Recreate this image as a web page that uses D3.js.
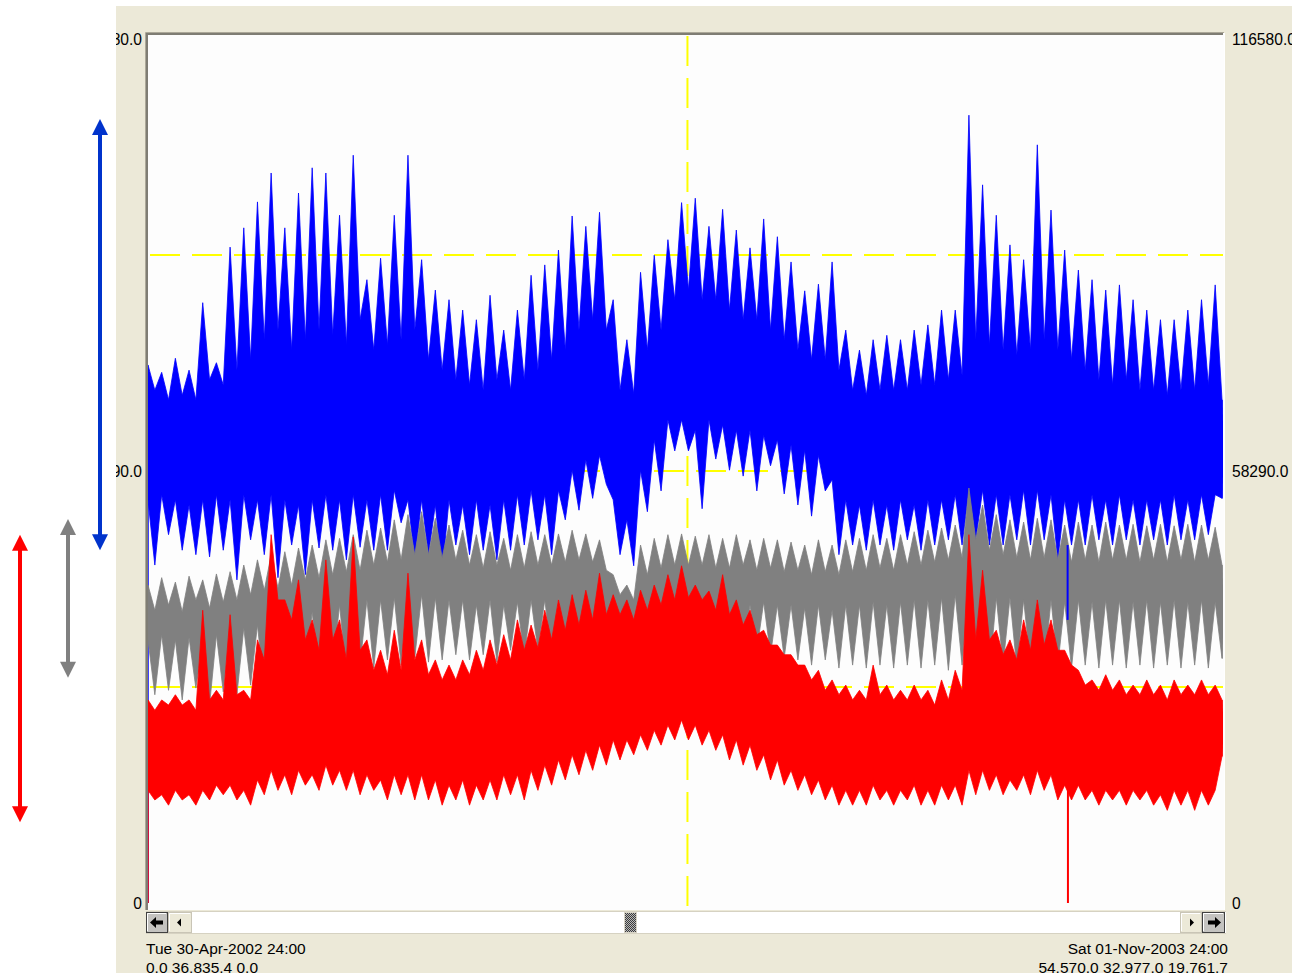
<!DOCTYPE html>
<html>
<head>
<meta charset="utf-8">
<script src="https://cdn.jsdelivr.net/npm/d3@7"></script>
<style>
  html, body { margin: 0; padding: 0; background: #fff; overflow: hidden; }
  svg { display: block; }
</style>
</head>
<body>
<svg id="chart" width="1292" height="973"></svg>
<script>
// Period shown: Tue 30-Apr-2002 24:00 .. Sat 01-Nov-2003 24:00
const startDate = new Date(2002, 4, 1, 0, 0);
const endDate = new Date(2003, 10, 2, 0, 0);
const gridDate = new Date(2003, 1, 1, 0, 0);   // vertical grid line at the middle of the span
const stepDays = 3.5;                            // one sample every half week
const unit = 1000;                               // series values are stored in thousands

// Half-week envelopes (pairs: working days, weekend), values in thousands
const blueHigh = [
  72.6,69.2, 71.6,67.9, 73.5,68.5, 71.9,67.9, 81.0,70.6, 72.9,69.9, 88.5,71.9, 91.1,73.3, 94.6,76.0, 98.5,77.3,
  91.1,74.6, 95.8,76.0, 99.2,77.3, 98.5,76.6, 92.8,75.3, 100.9,78.7, 84.1,74.6, 87.0,75.3, 92.8,76.0, 100.9,77.3,
  86.8,73.3, 82.7,71.9, 81.4,70.6, 80.0,69.9, 78.7,69.2, 82.0,70.6, 77.3,69.2, 80.0,70.6, 84.7,71.9, 86.1,73.3,
  88.1,74.6, 92.7,77.3, 91.3,78.7, 93.2,77.3, 81.4,69.2, 76.0,68.7, 85.1,74.6, 87.4,77.3, 89.5,81.4, 94.5,82.7,
  95.1,81.4, 91.3,81.4, 93.6,80.0, 90.8,78.7, 88.4,78.7, 92.3,77.3, 89.9,76.0, 86.5,74.6, 82.6,73.3, 83.5,73.3,
  86.5,71.9, 77.3,69.2, 74.6,68.5, 76.0,69.2, 76.6,69.2, 76.0,69.2, 77.3,69.9, 78.0,69.9, 80.0,70.6, 80.0,71.2,
  106.3,76.0, 96.9,75.3, 92.8,74.6, 88.8,73.9, 86.8,74.6, 102.3,76.0, 93.5,74.6, 88.1,73.3, 85.4,71.9, 84.1,70.6,
  82.7,69.9, 83.4,70.6, 81.4,69.2, 80.0,69.2, 78.7,68.5, 78.7,69.2, 80.0,69.2, 81.4,69.9, 83.4,67.9
];
const blueLow = [
  54.4,45.6, 55.1,49.7, 54.4,47.6, 53.7,47.0, 54.4,46.7, 55.1,47.6, 54.4,43.6, 55.1,49.0, 54.4,47.0, 55.1,43.9,
  54.4,48.3, 53.7,44.3, 54.4,47.9, 55.1,47.6, 54.4,46.3, 55.1,48.0, 54.4,47.6, 55.1,47.6, 55.7,51.3, 54.4,46.3,
  54.4,47.0, 53.7,44.5, 54.4,48.3, 53.7,47.0, 54.4,47.6, 53.7,46.3, 54.4,47.6, 55.1,48.3, 55.7,49.0, 55.1,47.0,
  55.7,51.7, 58.4,53.0, 59.8,54.6, 60.4,56.5, 54.4,47.0, 51.7,45.5, 58.4,52.8, 62.5,55.6, 65.2,61.0, 65.2,61.0,
  63.8,53.2, 65.2,59.9, 64.5,58.4, 63.8,57.6, 63.8,55.6, 63.1,59.0, 62.5,55.2, 61.8,53.7, 61.1,52.2, 60.4,55.6,
  57.1,47.0, 54.4,48.3, 53.7,47.6, 54.4,48.3, 53.7,47.6, 54.4,49.0, 53.7,47.6, 54.4,48.3, 54.4,49.0, 55.1,48.3,
  55.7,49.0, 55.7,48.3, 55.1,48.3, 55.1,49.0, 55.7,48.3, 55.7,49.0, 55.1,46.3, 54.4,48.3, 54.4,48.3, 55.1,49.0,
  54.4,48.3, 55.1,49.0, 54.4,48.3, 54.4,49.0, 54.4,48.3, 55.1,49.0, 54.4,49.0, 55.1,49.7, 55.1,54.6
];
const greyHigh = [
  42.9,39.5, 43.9,40.2, 43.3,39.3, 44.1,40.9, 43.6,39.8, 44.4,40.6, 44.7,40.9, 45.6,41.6, 46.3,42.2, 47.0,42.5,
  47.4,42.9, 47.9,43.6, 48.3,43.9, 49.0,44.3, 49.2,44.7, 49.7,44.9, 50.3,45.6, 50.6,46.0, 51.7,46.3, 52.4,47.0,
  52.8,47.0, 51.9,46.6, 51.0,46.3, 50.3,45.6, 49.7,45.2, 50.1,45.6, 49.2,44.9, 49.7,45.2, 50.1,45.6, 49.7,45.6,
  49.8,46.0, 50.3,46.3, 49.8,46.0, 49.0,44.9, 44.3,41.6, 42.9,40.9, 48.3,44.3, 49.2,45.2, 49.7,45.6, 49.8,45.6,
  49.5,45.6, 49.7,45.2, 49.2,45.2, 49.7,45.6, 49.0,44.9, 49.2,45.2, 49.0,44.7, 48.7,44.9, 48.3,44.3, 49.0,44.7,
  48.3,44.3, 49.0,44.7, 49.2,44.9, 49.7,45.2, 49.2,44.9, 49.7,45.6, 50.1,45.6, 50.3,46.0, 50.6,46.3, 51.0,46.6,
  56.0,49.0, 53.7,47.6, 52.4,47.0, 51.7,46.6, 51.4,46.3, 51.9,46.6, 51.7,46.3, 51.0,46.0, 51.4,46.3, 51.0,46.0,
  51.4,46.3, 51.0,46.3, 51.1,46.0, 50.9,46.3, 51.1,46.0, 50.9,46.3, 51.1,46.0, 51.0,46.3, 50.7,45.6
];
const greyLow = [
  35.5,28.1, 36.2,28.7, 35.5,27.4, 35.8,29.0, 35.2,26.7, 36.2,28.5, 36.8,28.1, 37.1,29.4, 37.5,28.7, 38.2,30.1,
  38.5,29.7, 38.9,30.8, 39.3,30.1, 39.5,31.4, 40.2,31.0, 40.2,32.1, 40.9,31.7, 40.9,32.8, 41.2,32.1, 41.6,33.1,
  41.6,32.5, 41.2,32.8, 40.9,33.5, 40.9,32.8, 40.2,33.5, 40.9,32.5, 40.2,34.1, 40.6,33.1, 40.9,34.1, 40.9,33.5,
  41.2,34.8, 41.6,35.5, 40.9,34.8, 40.2,34.1, 37.5,32.8, 36.8,32.1, 40.2,33.5, 40.9,34.1, 41.2,34.4, 40.9,33.9,
  40.9,34.1, 40.9,33.5, 40.6,34.1, 40.9,33.5, 40.2,34.1, 40.6,33.5, 40.2,33.1, 40.2,32.8, 39.8,32.1, 40.2,32.8,
  39.5,31.7, 40.2,32.1, 40.2,31.7, 40.6,32.1, 40.2,31.7, 40.6,32.1, 40.9,31.7, 40.9,32.1, 41.2,31.4, 41.6,32.1,
  42.2,31.4, 41.6,30.8, 41.2,32.1, 41.2,31.7, 40.9,32.1, 41.2,31.4, 40.9,32.1, 40.6,31.7, 40.9,32.1, 40.6,31.7,
  40.9,32.1, 40.9,31.7, 40.6,32.1, 40.9,31.7, 40.6,32.1, 40.9,31.7, 40.6,32.1, 40.9,31.7, 40.6,33.0
];
const redHigh = [
  27.4,26.0, 27.4,26.7, 28.1,26.7, 27.4,26.0, 39.5,27.4, 28.7,27.4, 38.9,28.1, 28.7,27.4, 35.5,32.8, 49.7,40.9,
  40.9,38.2, 43.6,35.5, 38.2,34.1, 46.3,35.5, 38.2,32.8, 49.4,34.1, 35.5,31.4, 34.1,30.8, 36.8,31.4, 44.5,32.8,
  35.5,30.8, 32.8,30.1, 32.1,30.1, 32.8,30.8, 34.1,31.4, 35.5,32.1, 36.2,32.8, 38.2,34.1, 37.5,34.4, 39.5,35.5,
  40.9,36.8, 41.6,37.5, 42.2,38.2, 44.5,38.9, 41.6,38.9, 40.9,38.2, 42.2,39.5, 42.9,40.2, 44.3,40.9, 45.5,41.2,
  42.9,40.9, 42.1,39.5, 44.3,38.9, 40.9,37.5, 39.5,36.2, 36.8,34.8, 34.8,33.5, 33.5,32.1, 32.1,30.1, 31.4,28.7,
  30.1,28.1, 29.4,27.4, 28.7,27.4, 32.1,28.1, 29.4,27.4, 28.7,27.4, 29.4,27.4, 28.7,26.7, 30.1,27.4, 31.4,28.7,
  49.7,35.5, 44.9,35.5, 36.8,33.5, 35.5,32.8, 38.2,34.1, 40.9,34.8, 38.2,34.1, 34.1,32.1, 31.4,29.4, 30.1,28.7,
  30.8,28.7, 30.1,28.1, 29.4,28.1, 30.1,28.1, 29.4,27.4, 30.1,28.1, 29.4,28.1, 30.1,28.1, 29.4,27.4
];
const redLow = [
  15.2,13.9, 14.6,13.2, 15.2,13.9, 14.6,13.2, 15.2,13.9, 15.9,14.6, 15.9,13.9, 15.2,13.2, 16.6,14.6, 17.9,15.2,
  17.3,14.6, 17.9,15.9, 17.3,15.2, 18.6,15.9, 17.9,15.2, 17.9,14.6, 17.3,15.2, 16.6,13.9, 17.3,14.6, 17.3,13.9,
  17.3,13.9, 16.6,13.2, 15.9,13.9, 16.6,13.2, 15.9,13.9, 16.6,13.9, 17.3,14.6, 17.3,13.9, 17.9,15.2, 18.6,15.9,
  19.3,16.6, 20.0,17.3, 20.6,17.9, 21.3,18.6, 22.0,19.3, 22.0,20.0, 22.7,20.6, 23.3,21.3, 24.0,22.0, 24.7,22.0,
  24.0,21.3, 23.3,20.6, 22.7,19.3, 22.0,18.6, 21.3,17.9, 20.0,16.6, 19.3,15.9, 17.9,15.2, 17.3,14.6, 16.6,13.9,
  15.9,13.2, 15.2,13.2, 15.2,13.2, 15.9,13.9, 15.2,13.2, 15.2,13.9, 15.9,13.2, 15.2,13.2, 15.9,13.9, 15.9,13.2,
  17.9,14.6, 17.9,15.2, 17.3,14.6, 16.6,15.2, 17.3,14.6, 17.9,15.2, 17.3,13.9, 15.9,13.9, 15.9,13.9, 15.2,13.2,
  15.2,13.9, 15.2,13.2, 15.2,13.9, 15.2,13.2, 14.6,12.5, 15.2,13.2, 15.2,12.5, 15.2,13.2, 15.2,19.8
];

// Short single-reading drops (series index, time, value before the drop, value reached)
const dropouts = [
  { series: 0, date: new Date(2003, 7, 14, 12), from: 48300, to: 38200 },
  { series: 2, date: new Date(2003, 7, 14, 16), from: 15900, to: 0 }
];

// Cursor read-outs at both ends of the span (blue, grey, red)
const startValues = [0.0, 36835.4, 0.0];
const endValues = [54570.0, 32977.0, 19761.7];

const seriesNames = ["blue", "grey", "red"];
const seriesColors = ["#0000FF", "#808080", "#FF0000"];
const yTicks = [0, 58290, 116580];
const gridValues = [29145, 58290, 87435];
const startLabel = "Tue 30-Apr-2002 24:00";
const endLabel = "Sat 01-Nov-2003 24:00";

// Range markers drawn beside the panel (value spans in units)
const rangeMarks = [
  { color: "#0033CC", span: [47600, 105800], x: 100 },
  { color: "#808080", span: [30400, 51800], x: 68 },
  { color: "#FF0000", span: [10900, 49700], x: 20 }
];

const svg = d3.select("#chart");
const font = "'Liberation Sans', Arial, sans-serif";

const x = d3.scaleTime().domain([startDate, endDate]).range([148, 1223]);
const y = d3.scaleLinear().domain([0, 116580]).range([903, 39]);

const defs = svg.append("defs");
defs.append("clipPath").attr("id", "plotClip")
  .append("rect").attr("x", 148).attr("y", 35).attr("width", 1075).attr("height", 874);
defs.append("clipPath").attr("id", "panelClip")
  .append("rect").attr("x", 116).attr("y", 6).attr("width", 1176).attr("height", 967);
const grip = defs.append("pattern").attr("id", "grip")
  .attr("width", 2).attr("height", 2).attr("patternUnits", "userSpaceOnUse");
grip.append("rect").attr("width", 2).attr("height", 2).attr("fill", "#B8B8B8");
grip.append("rect").attr("width", 1).attr("height", 1).attr("fill", "#3C3C3C");
grip.append("rect").attr("x", 1).attr("y", 1).attr("width", 1).attr("height", 1).attr("fill", "#3C3C3C");

// page and panel
svg.append("rect").attr("width", 1292).attr("height", 973).attr("fill", "#FFFFFF");
svg.append("rect").attr("x", 116).attr("y", 6).attr("width", 1176).attr("height", 967).attr("fill", "#ECE9D8");

// plot frame
svg.append("rect").attr("x", 146).attr("y", 33).attr("width", 1079).attr("height", 877).attr("fill", "#FDFDFD");
svg.append("path").attr("d", "M145.5,910 V32.5 H1224").attr("fill", "none").attr("stroke", "#ACA899").attr("stroke-width", 1);
svg.append("path").attr("d", "M147,910 V34 H1223").attr("fill", "none").attr("stroke", "#7F7D74").attr("stroke-width", 2);
svg.append("path").attr("d", "M1224.5,33 V910").attr("fill", "none").attr("stroke", "#FFFFFF").attr("stroke-width", 1);

// grid
const grid = svg.append("g").attr("clip-path", "url(#plotClip)")
  .attr("stroke", "#FFFF00").attr("stroke-width", 2).attr("stroke-dasharray", "30,12");
grid.selectAll("line.h").data(gridValues).join("line").attr("class", "h")
  .attr("x1", 150).attr("x2", 1223).attr("y1", d => y(d)).attr("y2", d => y(d));
grid.append("line").attr("x1", x(gridDate)).attr("x2", x(gridDate)).attr("y1", 36).attr("y2", 909);

// series
const dayMs = 86400000;
function samples(high, low) {
  return high.map((h, k) => ({
    t: new Date(startDate.getTime() + k * stepDays * dayMs),
    hi: h * unit,
    lo: low[k] * unit
  }));
}
const seriesData = [samples(blueHigh, blueLow), samples(greyHigh, greyLow), samples(redHigh, redLow)];

const area = d3.area().x(d => x(d.t)).y0(d => y(d.lo)).y1(d => y(d.hi));
const line = d3.line().x(d => x(d.t)).y(d => y(d.v));

const series = svg.append("g").attr("clip-path", "url(#plotClip)");
seriesData.forEach((data, i) => {
  const g = series.append("g").attr("class", "series-" + seriesNames[i]);
  g.append("path").datum(data).attr("d", area)
    .attr("fill", seriesColors[i]).attr("stroke", seriesColors[i]).attr("stroke-width", 0.8);
  const first = data[0], last = data[data.length - 1];
  g.append("path")
    .datum([{ t: startDate, v: startValues[i] }, { t: first.t, v: first.lo }])
    .attr("d", line).attr("fill", "none").attr("stroke", seriesColors[i]).attr("stroke-width", 1.5);
  g.append("path")
    .datum([{ t: last.t, v: last.hi }, { t: endDate, v: endValues[i] }])
    .attr("d", line).attr("fill", "none").attr("stroke", seriesColors[i]).attr("stroke-width", 1.5);
});
// drops are drawn above all bands
dropouts.forEach(d => {
  series.append("path")
    .datum([{ t: d.date, v: d.from }, { t: d.date, v: d.to }])
    .attr("d", line).attr("fill", "none").attr("stroke", seriesColors[d.series]).attr("stroke-width", 2);
});

// value axes
const fmt = v => (v === 0 ? "0" : d3.format(".1f")(v));
const axisStyle = g => {
  g.select(".domain").remove();
  g.selectAll("text").attr("font-family", font).attr("font-size", "15.6px").attr("fill", "#000");
};
const axes = svg.append("g").attr("clip-path", "url(#panelClip)");
axes.append("g").attr("transform", "translate(148,0)")
  .call(d3.axisLeft(y).tickValues(yTicks).tickSize(0).tickPadding(6).tickFormat(fmt))
  .call(axisStyle);
axes.append("g").attr("transform", "translate(1223,0)")
  .call(d3.axisRight(y).tickValues(yTicks).tickSize(0).tickPadding(9).tickFormat(fmt))
  .call(axisStyle);

// scroll bar
const sb = svg.append("g");
sb.append("rect").attr("x", 146).attr("y", 911).attr("width", 1080).attr("height", 23).attr("fill", "#FFFFFF");
sb.append("line").attr("x1", 146).attr("x2", 1226).attr("y1", 911.5).attr("y2", 911.5).attr("stroke", "#D6D2C2");
sb.append("line").attr("x1", 146).attr("x2", 1226).attr("y1", 933.5).attr("y2", 933.5).attr("stroke", "#D6D2C2");
function button(x0, w, fill, dark) {
  sb.append("rect").attr("x", x0 + 0.5).attr("y", 912.5).attr("width", w - 1).attr("height", 20)
    .attr("fill", fill).attr("stroke", dark ? "#404040" : "#C9C5B6");
  sb.append("path").attr("d", `M${x0 + 1.5},931 V913.5 H${x0 + w - 2}`)
    .attr("fill", "none").attr("stroke", "#FFFFFF");
}
button(146, 22, "#C4C3C0", true);
button(168, 24, "#ECE9D8", false);
button(1180, 22, "#ECE9D8", false);
button(1202, 23, "#C4C3C0", true);
sb.append("path").attr("d", "M150,922.5 L156,917 V920.5 H163 V924.5 H156 V928 Z").attr("fill", "#000");
sb.append("path").attr("d", "M1221,922.5 L1215,917 V920.5 H1208 V924.5 H1215 V928 Z").attr("fill", "#000");
sb.append("path").attr("d", "M177,922.5 L181,918.5 V926.5 Z").attr("fill", "#000");
sb.append("path").attr("d", "M1194,922.5 L1190,918.5 V926.5 Z").attr("fill", "#000");
sb.append("rect").attr("x", 625).attr("y", 913).attr("width", 11).attr("height", 19).attr("fill", "url(#grip)");
sb.append("rect").attr("x", 624.5).attr("y", 912.5).attr("width", 12).attr("height", 20)
  .attr("fill", "none").attr("stroke", "#D8D4C6");

// time and cursor read-outs
const fmtVal = d3.format(",.1f");
const info = svg.append("g").attr("font-family", font).attr("font-size", "15.5px").attr("fill", "#000");
info.append("text").attr("x", 146).attr("y", 953.5).text(startLabel);
info.append("text").attr("x", 146).attr("y", 973).text(startValues.map(fmtVal).join(" "));
info.append("text").attr("x", 1228).attr("y", 953.5).attr("text-anchor", "end").text(endLabel);
info.append("text").attr("x", 1228).attr("y", 973).attr("text-anchor", "end").text(endValues.map(fmtVal).join(" "));

// range markers
const marks = svg.append("g");
rangeMarks.forEach(m => {
  const yTop = y(m.span[1]), yBot = y(m.span[0]);
  const head = 16, half = 8;
  marks.append("line").attr("x1", m.x).attr("x2", m.x).attr("y1", yTop + head - 2).attr("y2", yBot - head + 2)
    .attr("stroke", m.color).attr("stroke-width", 4);
  marks.append("path").attr("d", `M${m.x},${yTop} L${m.x + half},${yTop + head} L${m.x - half},${yTop + head} Z`).attr("fill", m.color);
  marks.append("path").attr("d", `M${m.x},${yBot} L${m.x + half},${yBot - head} L${m.x - half},${yBot - head} Z`).attr("fill", m.color);
});
</script>
</body>
</html>
